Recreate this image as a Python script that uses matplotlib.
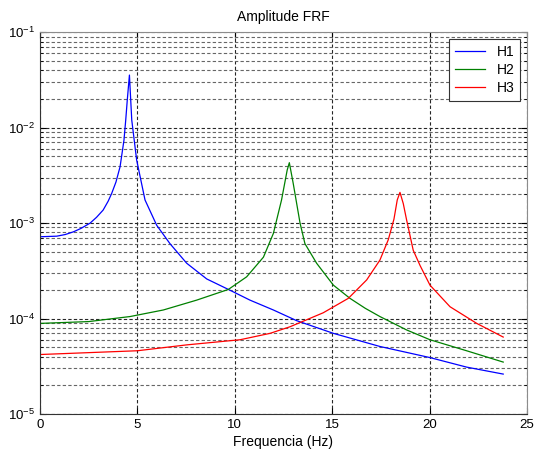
import matplotlib
matplotlib.use('Agg')
import matplotlib.pyplot as plt
from matplotlib.ticker import LogLocator, NullFormatter

plt.rcParams['font.family'] = ['Liberation Sans', 'DejaVu Sans']
plt.rcParams['mathtext.default'] = 'regular'

# values (frequency in Hz, amplitude)
f1 = [0.0, 0.86, 1.3, 1.71, 2.1, 2.57, 2.9, 3.24, 3.5, 3.68, 3.9, 4.11, 4.2, 4.31, 4.4, 4.48,
      4.59, 4.71, 4.96, 5.39, 5.99, 6.67, 7.53, 8.56, 9.67, 10.78, 11.98, 13.18, 15.06,
      17.45, 20.02, 21.9, 23.78]
h1 = [7.2e-4, 7.3e-4, 7.6e-4, 8.1e-4, 8.8e-4, 1.0e-3, 1.15e-3, 1.37e-3, 1.7e-3, 2.05e-3,
      2.7e-3, 3.9e-3, 5.2e-3, 7.4e-3, 1.2e-2, 1.95e-2, 3.56e-2, 1.2e-2, 4.6e-3, 1.75e-3,
      9.5e-4, 6.1e-4, 3.8e-4, 2.6e-4, 2.02e-4, 1.56e-4, 1.23e-4, 9.5e-5, 7.0e-5, 5.1e-5,
      3.9e-5, 3.1e-5, 2.62e-5]

f2 = [0.0, 2.5, 4.62, 6.33, 8.04, 9.67, 10.61, 11.47, 11.98, 12.4, 12.69, 12.8, 13.0, 13.35,
      13.6, 14.2, 15.06, 15.91, 16.7, 17.45, 18.82, 20.02, 21.9, 23.78]
h2 = [8.9e-5, 9.3e-5, 1.05e-4, 1.23e-4, 1.56e-4, 2.02e-4, 2.74e-4, 4.4e-4, 7.8e-4, 1.75e-3,
      3.6e-3, 4.3e-3, 2.6e-3, 1.0e-3, 6.1e-4, 3.8e-4, 2.24e-4, 1.63e-4, 1.28e-4, 1.05e-4,
      7.6e-5, 6.0e-5, 4.6e-5, 3.5e-5]

f3 = [0.0, 5.0, 7.53, 10.27, 11.81, 12.83, 14.54, 15.83, 16.77, 17.45, 17.88, 18.17, 18.34,
      18.48, 18.65, 18.82, 19.16, 19.51, 20.02, 21.05, 22.42, 23.78]
h3 = [4.2e-5, 4.6e-5, 5.3e-5, 6.0e-5, 7.0e-5, 8.2e-5, 1.15e-4, 1.63e-4, 2.54e-4, 4.1e-4,
      6.7e-4, 1.1e-3, 1.75e-3, 2.1e-3, 1.6e-3, 1.08e-3, 5.2e-4, 3.6e-4, 2.24e-4, 1.33e-4,
      8.9e-5, 6.4e-5]

labels = ['H1', 'H2', 'H3']

fig = plt.figure(figsize=(5.35, 4.55), dpi=100)
ax = fig.add_axes([0.0748, 0.0901, 0.9102, 0.839])

ax.semilogy(f1, h1, color='#0000ff', lw=0.9, label=labels[0])
ax.semilogy(f2, h2, color='#008000', lw=0.9, label=labels[1])
ax.semilogy(f3, h3, color='#ff0000', lw=0.9, label=labels[2])

ax.set_xlim(0, 25)
ax.set_ylim(1e-5, 1e-1)
ax.set_xticks([0, 5, 10, 15, 20, 25])
ax.yaxis.set_major_locator(LogLocator(base=10, numticks=10))
ax.yaxis.set_minor_locator(LogLocator(base=10, subs=range(2, 10), numticks=20))
ax.yaxis.set_minor_formatter(NullFormatter())

ax.grid(True, which='major', color='0.15', ls=(0, (3, 2)), lw=0.8)
ax.grid(True, which='minor', axis='y', color='0.4', ls=(0, (3, 2)), lw=0.8)
ax.tick_params(which='both', direction='in', labelsize=9.5, top=True, right=True)
ax.tick_params(which='major', length=4)
ax.tick_params(which='minor', length=2)

for side in ['top', 'right']:
    ax.spines[side].set_color('0.55')
for side in ['left', 'bottom']:
    ax.spines[side].set_color('0.2')

ax.set_title('Amplitude FRF', fontsize=10, pad=8)
ax.set_xlabel('Frequencia (Hz)', fontsize=10, labelpad=3)

leg = ax.legend(loc='upper right', fontsize=10, fancybox=False, framealpha=1,
                edgecolor='0.2', handlelength=2.2, borderaxespad=0.5, labelspacing=0.3,
                borderpad=0.4)
leg.get_frame().set_linewidth(0.8)

fig.savefig('out.png', dpi=100)
